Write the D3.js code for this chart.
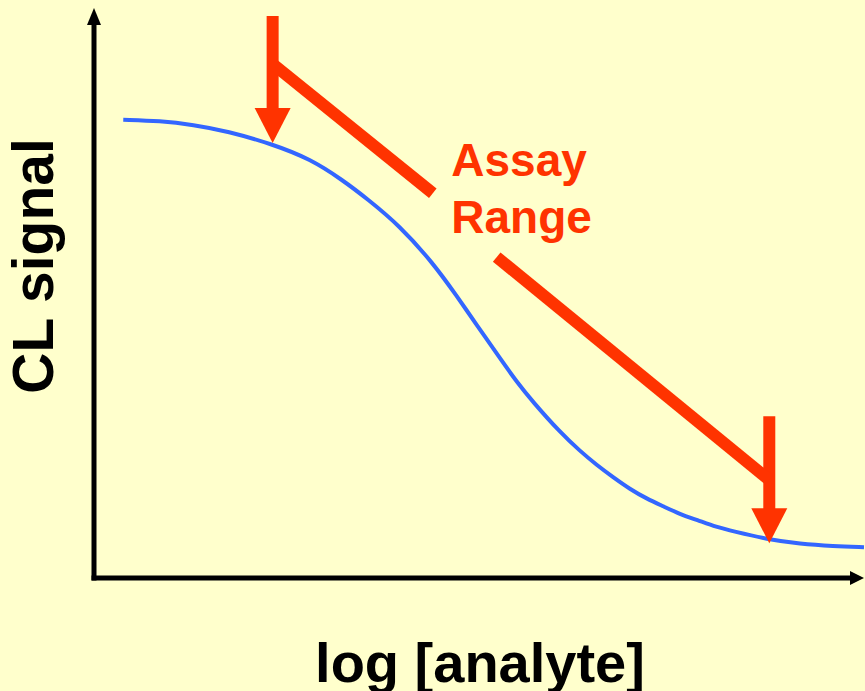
<!DOCTYPE html>
<html>
<head>
<meta charset="utf-8">
<script src="https://cdn.jsdelivr.net/npm/d3@7"></script>
<style>
  html, body { margin: 0; padding: 0; background: #ffffcc; }
  svg { display: block; }
  text { font-family: "Liberation Sans", Arial, sans-serif; font-weight: bold; }
</style>
</head>
<body>
<div id="chart"></div>
<script>
const W = 865, H = 691;

// curve: log concentration (0-10) vs signal (0-100)
let logConc = [0.38, 0.86, 1.29, 1.73, 2.32, 2.81, 3.23, 3.55, 3.97, 4.40,
               4.71, 4.97, 5.27, 5.49, 5.70, 6.05, 6.31, 6.53, 6.74, 6.96,
               7.18, 7.39, 7.61, 7.83, 8.09, 8.30, 8.74, 9.17, 9.60, 10.0];
let signal = [80.4, 80.2, 79.5, 78.4, 76.1, 73.5, 69.8, 66.5, 61.8, 55.3,
              49.5, 44.4, 38.6, 34.4, 30.9, 25.6, 22.3, 19.8, 17.7, 15.6,
              13.9, 12.6, 11.2, 10.2, 8.9, 8.2, 6.8, 6.0, 5.6, 5.4];

// assay range markers
let rangeX = [2.32, 8.77];
let rangeTipY = [76.3, 6.1];
// connector segments [x1, y1, x2, y2]
let connectors = [[2.32, 90.2, 4.40, 67.5], [5.23, 56.3, 8.77, 17.2]];
let rangeLabel = ["Assay", "Range"];
let rangeLabelX = 4.64;
let rangeLabelY = [70.5, 60.5];

let xTitle = "log [analyte]";
let yTitle = "CL signal";

const red = "#ff3300", blue = "#3366ff";

let svg = d3.select("#chart").append("svg")
    .attr("width", W).attr("height", H);

svg.append("rect").attr("width", W).attr("height", H).attr("fill", "#ffffcc");

let x = d3.scaleLinear().domain([0, 10]).range([94, 864]);
let y = d3.scaleLinear().domain([0, 100]).range([578, 8]);

// ---------- axes ----------
let axes = svg.append("g");
axes.append("line")
    .attr("x1", x(0)).attr("y1", y(0) + 2.5)
    .attr("x2", x(0)).attr("y2", y(100) + 10)
    .attr("stroke", "#000").attr("stroke-width", 5);
axes.append("line")
    .attr("x1", x(0) - 2.5).attr("y1", y(0))
    .attr("x2", x(10) - 10).attr("y2", y(0))
    .attr("stroke", "#000").attr("stroke-width", 5);
// arrow heads
axes.append("path")
    .attr("d", `M${x(0)},${y(100)} L${x(0) + 7},${y(100) + 17} L${x(0) - 7},${y(100) + 17}Z`)
    .attr("fill", "#000");
axes.append("path")
    .attr("d", `M${x(10)},${y(0)} L${x(10) - 14},${y(0) - 7} L${x(10) - 14},${y(0) + 7}Z`)
    .attr("fill", "#000");

// ---------- curve ----------
let line = d3.line()
    .x(d => x(d[0]))
    .y(d => y(d[1]))
    .curve(d3.curveBasis);

svg.append("path")
    .datum(d3.zip(logConc, signal))
    .attr("d", line)
    .attr("fill", "none")
    .attr("stroke", blue)
    .attr("stroke-width", 4);

// ---------- assay range annotation ----------
let ann = svg.append("g");
const ARROW_LEN = 127, HEAD_LEN = 35, HEAD_HALF = 18;

rangeX.forEach((rx, i) => {
    let tx = x(rx), ty = y(rangeTipY[i]);
    ann.append("line")
        .attr("x1", tx).attr("y1", ty - ARROW_LEN)
        .attr("x2", tx).attr("y2", ty - HEAD_LEN + 1)
        .attr("stroke", red).attr("stroke-width", 12);
    ann.append("path")
        .attr("d", `M${tx},${ty} L${tx - HEAD_HALF},${ty - HEAD_LEN} L${tx + HEAD_HALF},${ty - HEAD_LEN}Z`)
        .attr("fill", red);
});

ann.selectAll(".conn")
    .data(connectors)
    .enter().append("line")
    .attr("class", "conn")
    .attr("x1", d => x(d[0])).attr("y1", d => y(d[1]))
    .attr("x2", d => x(d[2])).attr("y2", d => y(d[3]))
    .attr("stroke", red).attr("stroke-width", 12);

ann.selectAll(".rlabel")
    .data(rangeLabel)
    .enter().append("text")
    .attr("class", "rlabel")
    .attr("x", x(rangeLabelX))
    .attr("y", (d, i) => y(rangeLabelY[i]))
    .attr("fill", red)
    .attr("font-size", 46)
    .text(d => d);

// ---------- titles ----------
svg.append("text")
    .attr("x", 480).attr("y", 682)
    .attr("text-anchor", "middle")
    .attr("font-size", 56)
    .attr("fill", "#000")
    .text(xTitle);

svg.append("text")
    .attr("transform", "translate(53,266) rotate(-90)")
    .attr("text-anchor", "middle")
    .attr("font-size", 57)
    .attr("fill", "#000")
    .text(yTitle);
</script>
</body>
</html>
